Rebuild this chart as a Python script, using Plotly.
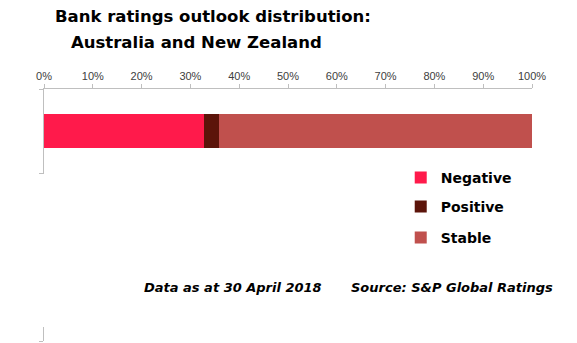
import plotly.graph_objects as go

categories = ["Negative", "Positive", "Stable"]
values = [32.8, 3.1, 64.1]
colors = ["#FF1A4B", "#5C140A", "#C0504D"]
row = [0.5]
x_ticks = list(range(0, 101, 10))
x_tick_labels = [f"{v}%" for v in x_ticks]
legend_y = [0.647, 0.532, 0.409]

fig = go.Figure()
legend_names = ["legend", "legend2", "legend3"]
for i, (cat, val, col) in enumerate(zip(categories, values, colors)):
    fig.add_trace(go.Bar(
        x=[val], y=row, orientation="h", name=cat,
        marker=dict(color=col, line=dict(width=0)),
        width=0.405, legend=legend_names[i], showlegend=True,
    ))

legend_common = dict(x=0.731, xanchor="left", yanchor="middle",
                      bgcolor="rgba(0,0,0,0)",
                      font=dict(family="DejaVu Sans", size=14, color="black", weight="bold"))
fig.update_layout(
    barmode="stack",
    width=577, height=343,
    margin=dict(l=44, r=45, t=89, b=2),
    paper_bgcolor="white", plot_bgcolor="white",
    xaxis=dict(side="top", range=[0, 100], tickvals=x_ticks, ticktext=x_tick_labels,
               showgrid=False, zeroline=False, showline=True, linecolor="#BFBFBF", linewidth=1,
               ticks="outside", ticklen=4, tickcolor="#BFBFBF",
               tickfont=dict(family="Liberation Sans, Arial", size=11, color="#404040")),
    yaxis=dict(range=[3, 0], tickvals=[0, 1, 2, 3], showticklabels=False,
               showgrid=False, zeroline=False, showline=True, linecolor="#BFBFBF", linewidth=1,
               ticks="outside", ticklen=4, tickcolor="#BFBFBF"),
    legend=dict(y=legend_y[0], **legend_common),
    legend2=dict(y=legend_y[1], **legend_common),
    legend3=dict(y=legend_y[2], **legend_common),
    showlegend=True,
)

# white text box covering the middle of the axis line
fig.add_shape(type="rect", xref="paper", yref="paper", x0=-0.05, x1=1.05, y0=0.056, y1=0.663,
              fillcolor="white", line=dict(width=0), layer="above")

title_font = dict(family="DejaVu Sans", size=16.5, color="black", weight="bold")
fig.add_annotation(text="Bank ratings outlook distribution:", xref="paper", yref="paper",
                   x=(53 - 44) / 488, y=(341 - 17) / 252, xanchor="left", yanchor="middle",
                   showarrow=False, font=title_font)
fig.add_annotation(text="Australia and New Zealand", xref="paper", yref="paper",
                   x=(69 - 44) / 488, y=(341 - 42) / 252, xanchor="left", yanchor="middle",
                   showarrow=False, font=title_font)

foot_font = dict(family="DejaVu Sans", size=13, color="black", weight="bold", style="italic")
fig.add_annotation(text="Data as at 30 April 2018", xref="paper", yref="paper",
                   x=(142 - 44) / 488, y=(341 - 287) / 252, xanchor="left", yanchor="middle",
                   showarrow=False, font=foot_font)
fig.add_annotation(text="Source: S&P Global Ratings", xref="paper", yref="paper",
                   x=(555 - 44) / 488, y=(341 - 287) / 252, xanchor="right", yanchor="middle",
                   showarrow=False, font=foot_font)

fig.write_html("out.html")
